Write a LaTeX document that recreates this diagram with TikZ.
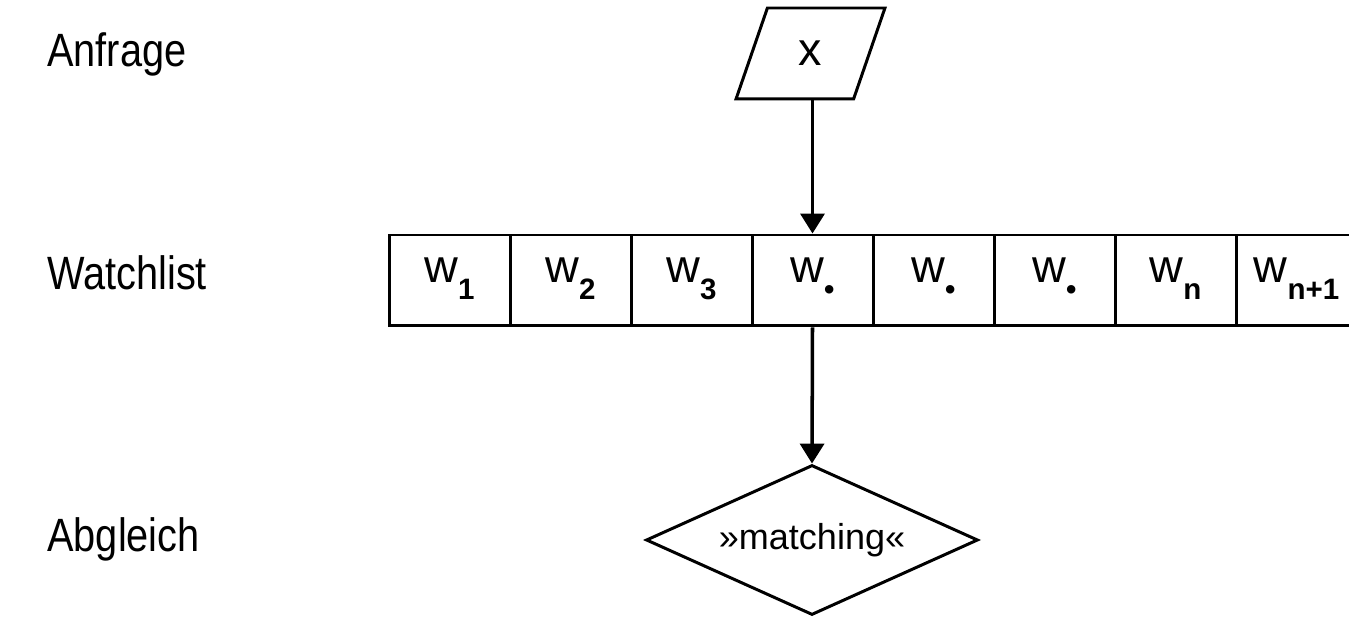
\documentclass[tikz,border=0pt]{standalone}
\usepackage{fontspec}
\setmainfont{Liberation Sans}
\newfontfamily\condfont[FakeStretch=0.85]{Liberation Sans}
\usetikzlibrary{shapes.geometric,arrows.meta}
\newcommand\wsub[1]{\raisebox{-9.6pt}{\fontsize{16.8}{18}\selectfont\bfseries #1}}
\begin{document}
\begin{tikzpicture}[x=0.02cm,y=-0.02cm,
  lbl/.style={anchor=base west,inner sep=0pt,font=\condfont\fontsize{26.6}{30}\selectfont},
  cell/.style={draw,line width=1.7pt,minimum width=2.42cm,minimum height=1.82cm,inner sep=0pt,
    text height=12pt,text depth=9.2pt,font=\fontsize{26.6}{30}\selectfont},
  inbox/.style={draw,line width=1.7pt,trapezium,trapezium left angle=71,trapezium right angle=109,
    trapezium stretches=true,minimum width=2.98cm,minimum height=1.82cm,inner sep=0pt,
    font=\fontsize{26.6}{30}\selectfont},
  decide/.style={draw,line width=1.7pt,diamond,minimum width=6.64cm,minimum height=3cm,inner sep=0pt,
    shape aspect=2.2,font=\fontsize{20.5}{24}\selectfont},
  flow/.style={line width=2pt,-{Triangle[width=13.6pt,length=11.3pt]}}]
\useasboundingbox (0,0) rectangle (1349,617);
\clip (0,0) rectangle (1349,617);
\node[lbl] (l1) at (47,67) {Anfrage};
\node[lbl] (l2) at (47,290) {Watchlist};
\node[lbl] (l3) at (47,552) {Abgleich};
\node[inbox] (x) at (810.5,53.5) {\raisebox{-2pt}{x}};
\node[cell] (w1) at (449.5,280.5) {w\wsub{1}};
\node[cell] (w2) at (570.5,280.5) {w\wsub{2}};
\node[cell] (w3) at (691.5,280.5) {w\wsub{3}};
\node[cell] (w4) at (812.5,280.5) {w\wsub{•}};
\node[cell] (w5) at (933.5,280.5) {w\wsub{•}};
\node[cell] (w6) at (1054.5,280.5) {w\wsub{•}};
\node[cell] (w7) at (1175.5,280.5) {w\wsub{n}};
\node[cell] (w8) at (1296.5,280.5) {w\wsub{n+1}};
\node[decide] (m) at (812,540) {»matching«};
\draw[flow] (w4.north |- x.south) -- (w4.north);
\draw[flow] (w4.south) -- (m.north);
\end{tikzpicture}
\end{document}
